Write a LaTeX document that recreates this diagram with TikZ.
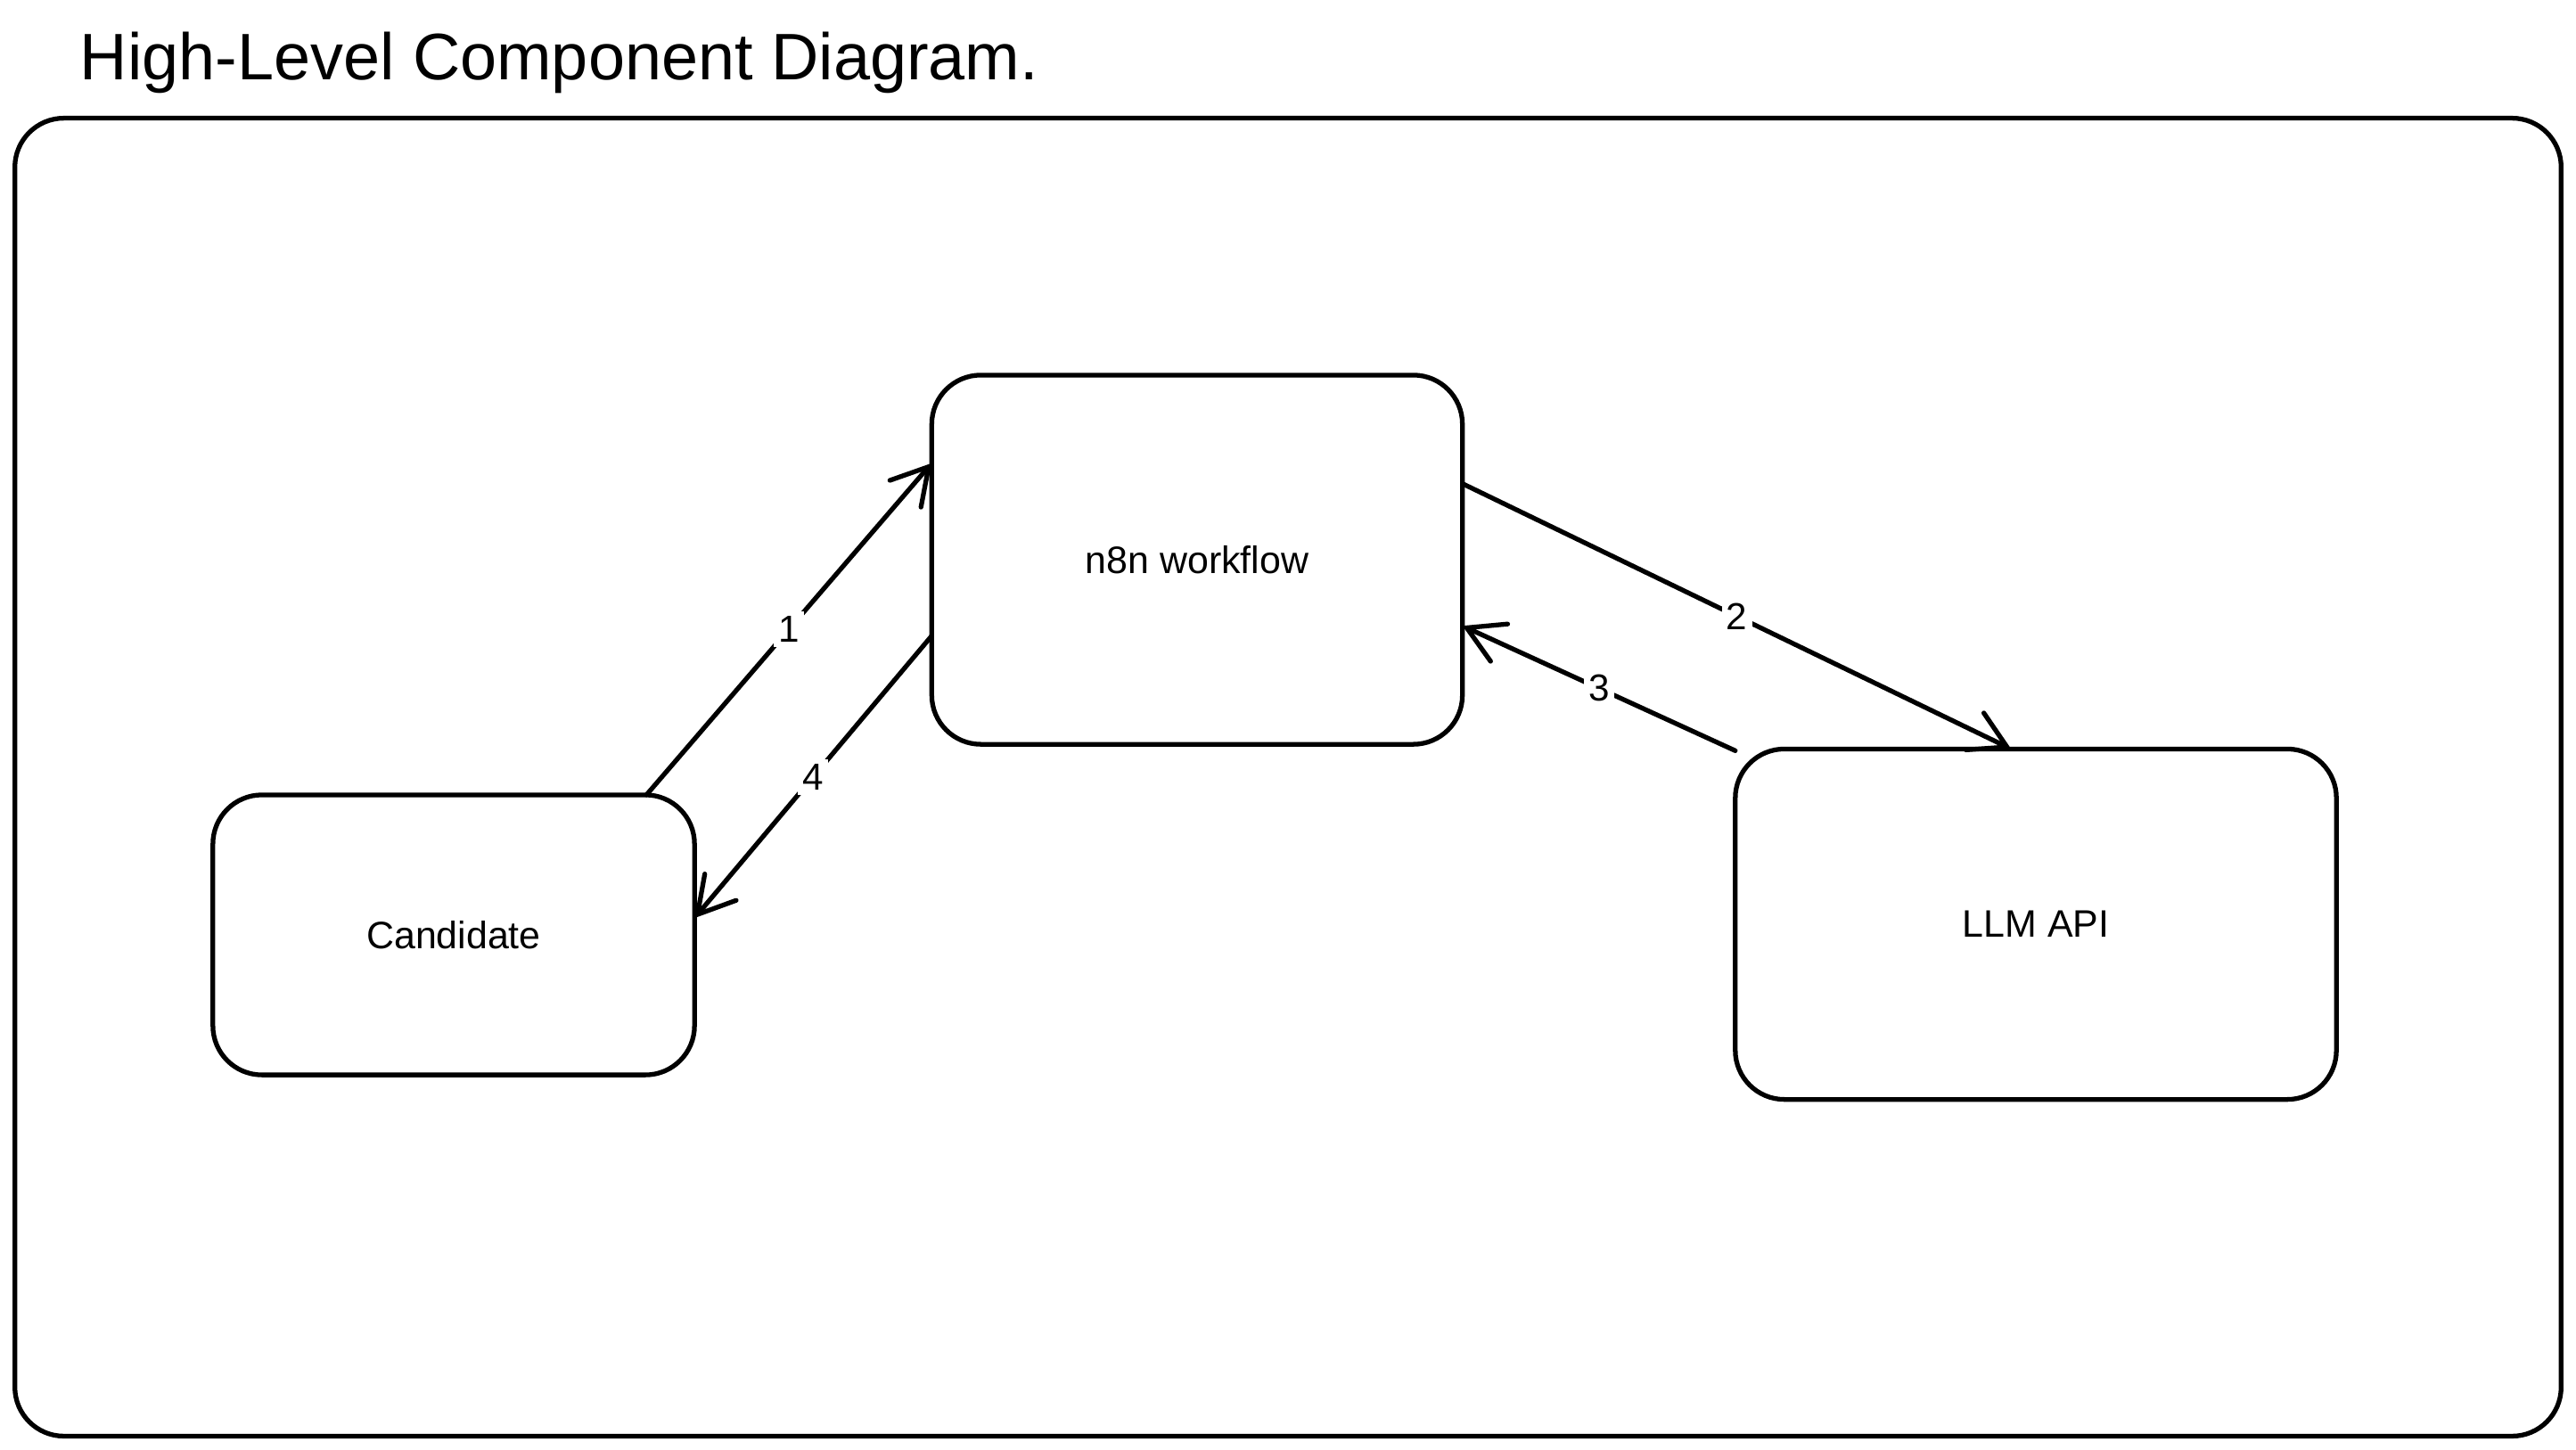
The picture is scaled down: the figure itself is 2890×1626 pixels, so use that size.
\documentclass[tikz,border=0pt]{standalone}
\usepackage{fontspec}
\setmainfont{Liberation Sans}
\usetikzlibrary{arrows.meta}
\tikzset{
  block/.style={draw, line width=1.5pt, rounded corners=0.55cm, outer sep=0pt,
    font=\fontsize{12.2}{14}\selectfont},
  flow/.style={line width=1.5pt, line cap=round,
    -{Straight Barb[length=4mm, width=4.6mm, line cap=round]}},
  num/.style={fill=white, inner sep=1.5pt, font=\fontsize{12}{14}\selectfont},
}

\begin{document}
\begin{tikzpicture}[x=0.01cm, y=-0.01cm]
  \useasboundingbox (0,0) rectangle (2890,1626);
  \node [anchor=base west, inner sep=0pt, font=\fontsize{21}{25}\selectfont]
    (title) at (89,89) {High-Level Component Diagram.};
  \node [block, minimum width=28.55cm, minimum height=14.78cm] (frame) at (1445,872) {};

  \node [block, minimum width=5.95cm, minimum height=4.14cm] (n8n) at (1343,628) {n8n workflow};
  \node [block, minimum width=5.4cm, minimum height=3.14cm] (cand) at (509,1049) {Candidate};
  \node [block, minimum width=6.74cm, minimum height=3.93cm] (llm) at (2284,1037) {LLM API};

  % numbered requests and replies
  \draw [flow] (cand.36) -- node [num] {1} (n8n.160);
  \draw [flow] (n8n.16) -- node [num] {2} (llm.98);
  \draw [flow] (llm.150) -- node [num] {3} (n8n.346);
  \draw [flow] (n8n.196) -- node [num] {4} (cand.4);
\end{tikzpicture}
\end{document}
